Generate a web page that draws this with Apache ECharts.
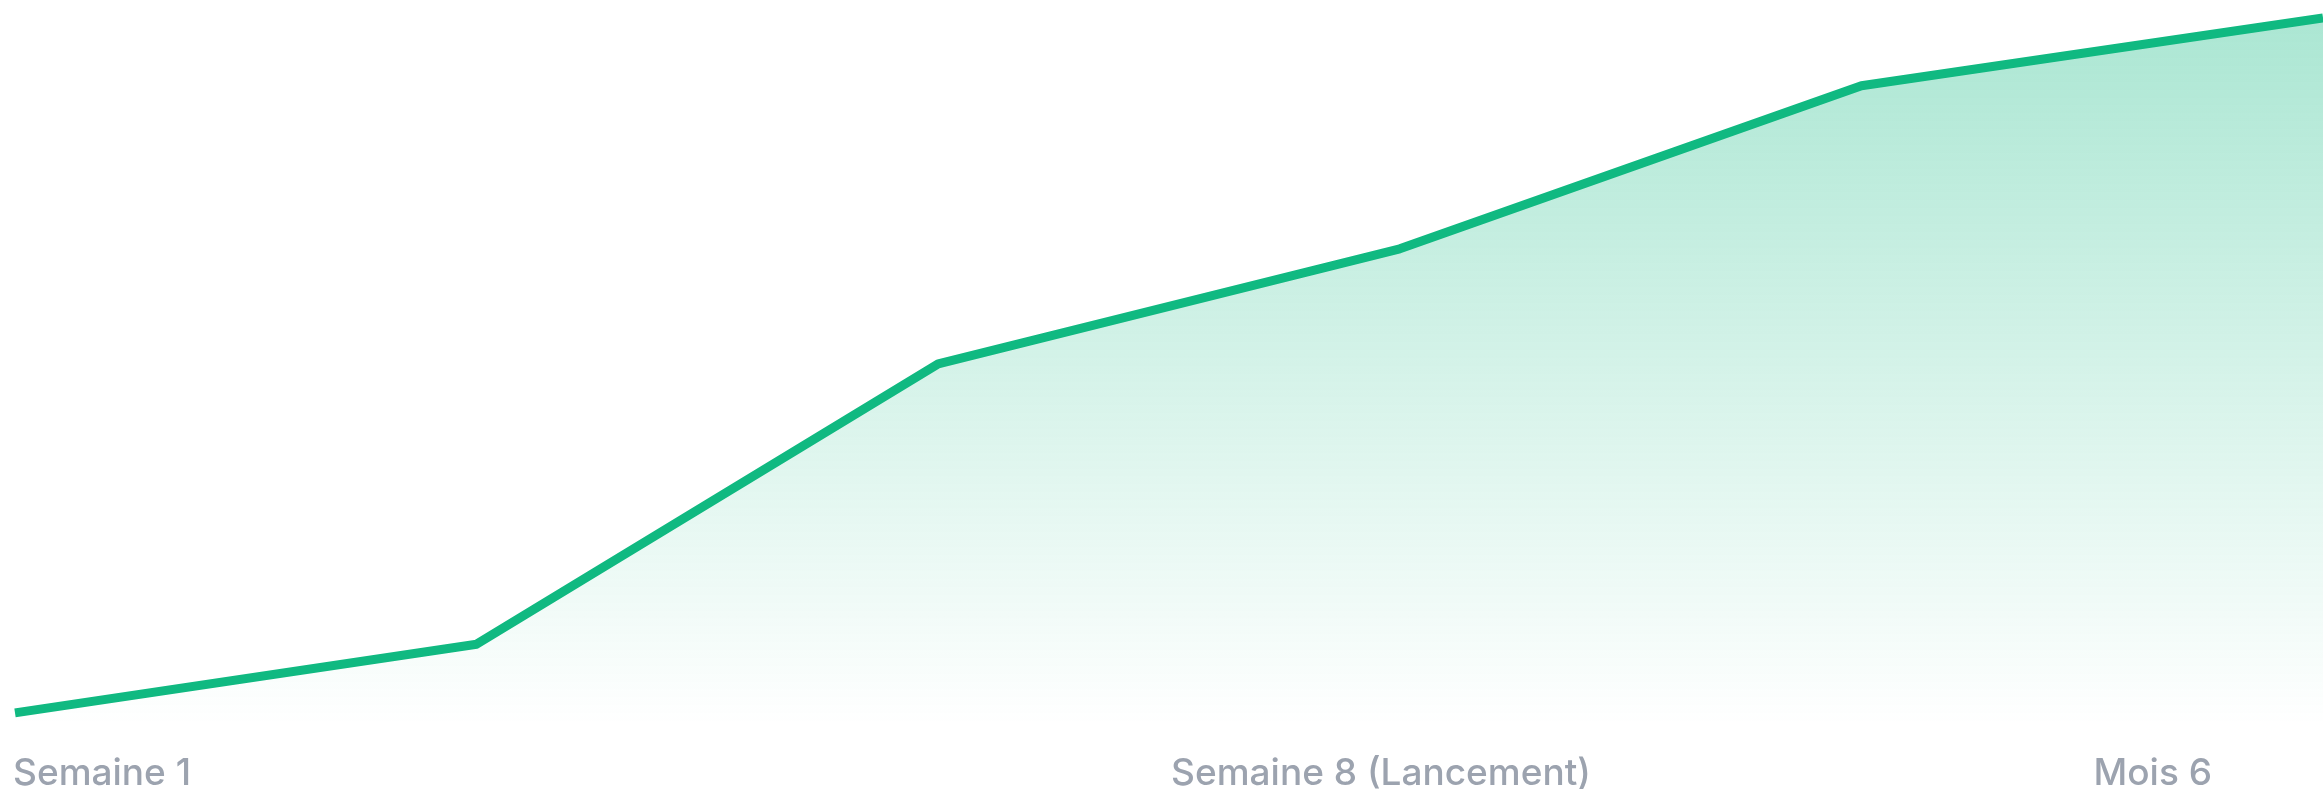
<!DOCTYPE html>
<html>
<head>
<meta charset="utf-8">
<script src="https://cdn.jsdelivr.net/npm/echarts@6.0.0/dist/echarts.min.js"></script>
<style>
  html, body { margin: 0; padding: 0; background: #fff; }
  #chart { width: 2323px; height: 789px; }
</style>
</head>
<body>
<div id="chart"></div>
<script>
  var steps = ['S1', 'S3', 'S8', 'M2', 'M4', 'M6'];
  var growth = [1.7, 11.3, 50.5, 66.6, 89.4, 98.9];
  var tickLabels = ['Semaine 1', 'Semaine 8 (Lancement)', 'Mois 6'];

  var chart = echarts.init(document.getElementById('chart'));

  function label(text, x, align) {
    return {
      type: 'text', x: x, y: 774,
      style: {
        text: text, fill: '#9ca3af', fontSize: 37, fontWeight: 500, fontFamily: 'Inter',
        textAlign: align, textVerticalAlign: 'middle'
      }
    };
  }

  chart.setOption({
    animation: false,
    grid: { left: 15, right: 0, top: 10, bottom: 64 },
    xAxis: { type: 'category', data: steps, boundaryGap: false, show: false },
    yAxis: { type: 'value', min: 0, max: 100, show: false },
    series: [{
      type: 'line',
      data: growth,
      showSymbol: false,
      lineStyle: { color: '#10b981', width: 9, join: 'round' },
      areaStyle: {
        color: new echarts.graphic.LinearGradient(0, 0, 0, 1, [
          { offset: 0, color: 'rgba(16,185,129,0.5)' },
          { offset: 1, color: 'rgba(16,185,129,0)' }
        ])
      }
    }],
    graphic: [
      label(tickLabels[0], 13, 'left'),
      label(tickLabels[1], 1381, 'center'),
      label(tickLabels[2], 2212, 'right')
    ]
  });
</script>
</body>
</html>
